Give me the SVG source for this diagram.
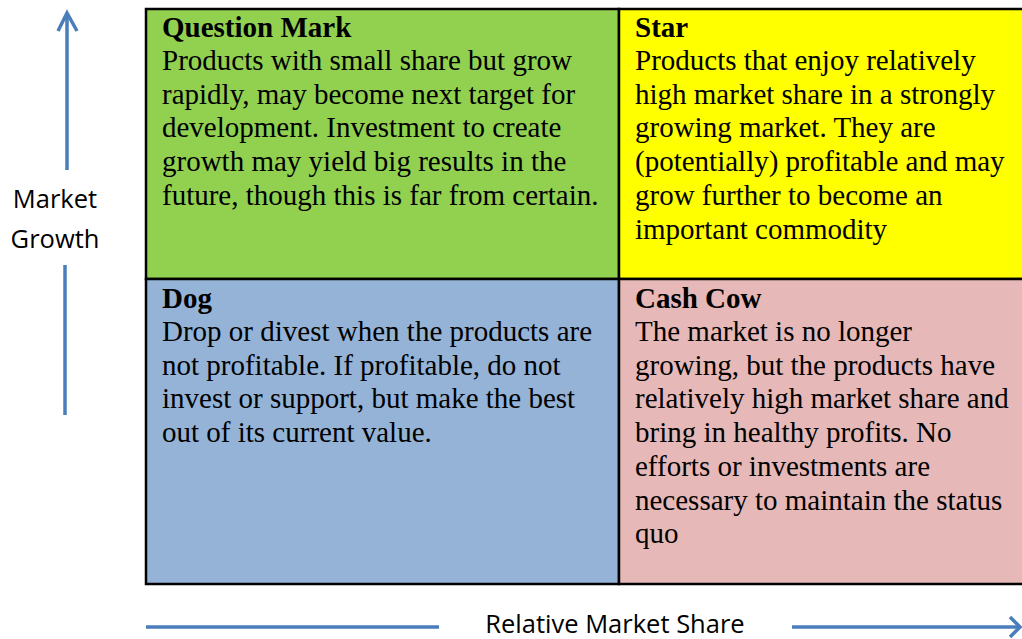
<svg xmlns="http://www.w3.org/2000/svg" width="1022" height="639" viewBox="0 0 1022 639">
  <defs>
    <style>
      .cell { stroke: #000; stroke-width: 2.5; }
      .title { font-family: "Liberation Serif", serif; font-weight: bold; font-size: 29px; fill: #000; }
      .body { font-family: "Liberation Serif", serif; font-size: 29px; fill: #000; }
      .axis { font-family: "Open Sans", "Liberation Sans", sans-serif; font-size: 25.5px; fill: #000; }
      .line { stroke: #4a7ebb; stroke-width: 3.5; fill: none; }
    </style>
  </defs>
  <rect width="1022" height="639" fill="#fff"/>

  <g id="question-mark">
    <rect class="cell" x="146" y="9" width="473" height="270" fill="#92d050"/>
    <text class="title" x="162" y="37">Question Mark</text>
    <text class="body" x="162" y="70">
      <tspan x="162" dy="0">Products with small share but grow</tspan>
      <tspan x="162" dy="33.7">rapidly, may become next target for</tspan>
      <tspan x="162" dy="33.7">development. Investment to create</tspan>
      <tspan x="162" dy="33.7">growth may yield big results in the</tspan>
      <tspan x="162" dy="33.7">future, though this is far from certain.</tspan>
    </text>
  </g>

  <g id="star">
    <rect class="cell" x="619" y="9" width="410" height="270" fill="#ffff00"/>
    <text class="title" x="635" y="37">Star</text>
    <text class="body" x="635" y="70">
      <tspan x="635" dy="0">Products that enjoy relatively</tspan>
      <tspan x="635" dy="33.7">high market share in a strongly</tspan>
      <tspan x="635" dy="33.7">growing market. They are</tspan>
      <tspan x="635" dy="33.7">(potentially) profitable and may</tspan>
      <tspan x="635" dy="33.7">grow further to become an</tspan>
      <tspan x="635" dy="33.7">important commodity</tspan>
    </text>
  </g>

  <g id="dog">
    <rect class="cell" x="146" y="279" width="473" height="305" fill="#95b3d7"/>
    <text class="title" x="162" y="308">Dog</text>
    <text class="body" x="162" y="341">
      <tspan x="162" dy="0">Drop or divest when the products are</tspan>
      <tspan x="162" dy="33.7">not profitable. If profitable, do not</tspan>
      <tspan x="162" dy="33.7">invest or support, but make the best</tspan>
      <tspan x="162" dy="33.7">out of its current value.</tspan>
    </text>
  </g>

  <g id="cash-cow">
    <rect class="cell" x="619" y="279" width="410" height="305" fill="#e6b9b8"/>
    <text class="title" x="635" y="308">Cash Cow</text>
    <text class="body" x="635" y="341">
      <tspan x="635" dy="0">The market is no longer</tspan>
      <tspan x="635" dy="33.7">growing, but the products have</tspan>
      <tspan x="635" dy="33.7">relatively high market share and</tspan>
      <tspan x="635" dy="33.7">bring in healthy profits. No</tspan>
      <tspan x="635" dy="33.7">efforts or investments are</tspan>
      <tspan x="635" dy="33.7">necessary to maintain the status</tspan>
      <tspan x="635" dy="33.7">quo</tspan>
    </text>
  </g>

  <g id="axes">
    <!-- vertical axis: Market Growth -->
    <line class="line" x1="67" y1="14" x2="67" y2="170"/>
    <polyline class="line" points="58,31 67,13 77,31"/>
    <line class="line" x1="65" y1="265" x2="65" y2="415"/>
    <!-- horizontal axis: Relative Market Share -->
    <line class="line" x1="146" y1="627" x2="439" y2="627"/>
    <line class="line" x1="792" y1="627" x2="1019" y2="627"/>
    <polyline class="line" points="1010,617 1020,627 1010,637"/>
  </g>

  <g id="axis-labels">
    <text class="axis" x="55" y="208" text-anchor="middle">Market</text>
    <text class="axis" x="55" y="248" text-anchor="middle">Growth</text>
    <text class="axis" x="615" y="633" text-anchor="middle">Relative Market Share</text>
  </g>
</svg>
